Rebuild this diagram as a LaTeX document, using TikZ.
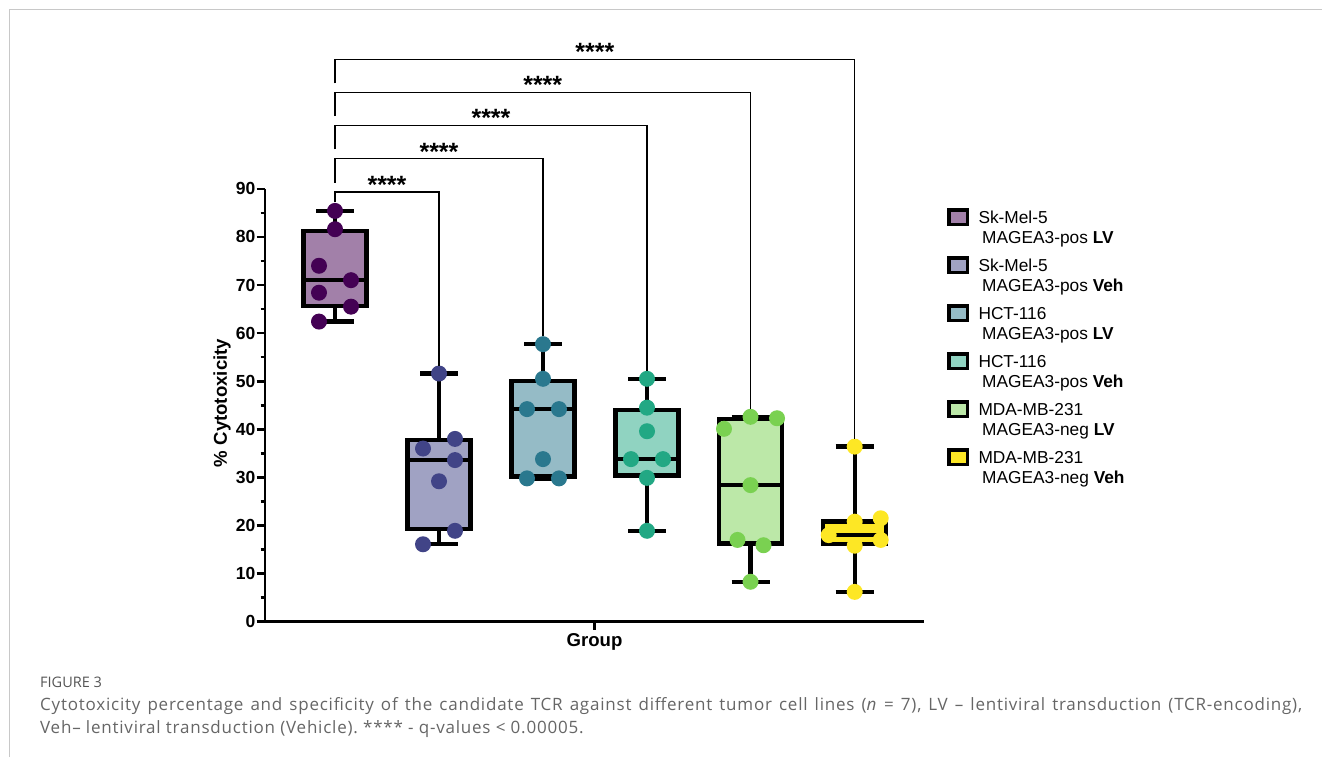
\documentclass[tikz,border=0pt]{standalone}
\usepackage{fontspec}
\setmainfont{Liberation Sans}
\newfontfamily\capfont[LetterSpace=4.6]{Open Sans}
\newfontfamily\figfont{Open Sans}
\usetikzlibrary{calc}
\frenchspacing
\definecolor{cA}{HTML}{440154}
\definecolor{cB}{HTML}{414487}
\definecolor{cC}{HTML}{2A788E}
\definecolor{cD}{HTML}{22A884}
\definecolor{cE}{HTML}{7AD151}
\definecolor{cF}{HTML}{FDE725}
\colorlet{fA}{cA!50!white}
\colorlet{fB}{cB!50!white}
\colorlet{fC}{cC!50!white}
\colorlet{fD}{cD!50!white}
\colorlet{fE}{cE!50!white}
\colorlet{fF}{cF}
\definecolor{framegray}{HTML}{C8C8C8}
\definecolor{capgray}{HTML}{666666}
\definecolor{figgray}{HTML}{555555}
\tikzset{
  axisline/.style={line width=2.6pt},
  boxline/.style={line width=4.4pt},
  whisk/.style={line width=4.4pt},
  brk/.style={line width=1.4pt},
  ticklab/.style={font=\bfseries\fontsize{17.5}{17.5}\selectfont, anchor=east, inner sep=0pt},
  stars/.style={font=\bfseries\fontsize{25}{25}\selectfont, anchor=base, inner sep=0pt},
  axlab/.style={font=\bfseries\fontsize{18.6}{18.6}\selectfont, inner sep=0pt},
  legtxt/.style={font=\fontsize{17.3}{17.3}\selectfont, anchor=base west, inner sep=0pt},
  legsq/.style={line width=3.5pt, draw=black},
  captxt/.style={font=\capfont\fontsize{17}{17}\selectfont\frenchspacing, text=capgray, anchor=base west, inner sep=0pt},
}
\newcommand\drawgroup[8]{%
  \draw[whisk] (#1,#5) -- (#1,#6);
  \draw[whisk] (#1-19,#5) -- (#1+19,#5);
  \draw[whisk] (#1-19,#6) -- (#1+19,#6);
  \draw[boxline, fill=f#2] (#1-31.5,#3) rectangle (#1+31.5,#4);
  \draw[boxline] (#1-31.5,#7) -- (#1+31.5,#7);
  \foreach \dx/\v in {#8} {\fill[c#2] (#1+\dx,\v) circle (8pt);}
}
\begin{document}
\begin{tikzpicture}[x=1pt,y=-1pt]
\useasboundingbox (0,0) rectangle (1322,761);
\fill[white] (0,0) rectangle (1322,761);
% frame
\draw[framegray, line width=1pt] (9.3,757) -- (9.3,9.3) -- (1322,9.3);

% plot in data coordinates
\begin{scope}[shift={(0pt,-621.7pt)}, y=4.81pt]
  % axes
  \draw[axisline] (265,90) -- (265,0) -- (924,0);
  \foreach \v in {0,10,...,90} {
    \draw[axisline] (256.5,\v) -- (265,\v);
    \node[ticklab] (t\v) at (255.5,\v) {\v};
  }
  \foreach \v in {5,15,...,85} {\draw[axisline] (260.5,\v) -- (265,\v);}
  \draw[axisline] (594.5,0) -- (594.5,-1.8);
  % groups
  \drawgroup{335}{A}{65.6}{81.2}{62.4}{85.4}{71.0}{0/85.4,0/81.6,-16/74.0,-16/68.4,16/71.0,16/65.5,-16/62.4}
  \drawgroup{439}{B}{19.3}{37.8}{16.1}{51.6}{33.6}{0/51.6,-16/36.0,16/38.0,16/33.6,0/29.2,16/18.9,-16/16.1}
  \drawgroup{543}{C}{30.2}{50.1}{29.8}{57.7}{44.2}{0/57.7,0/50.5,-16/44.2,16/44.2,0/33.8,-16/29.8,16/29.8}
  \drawgroup{647}{D}{30.4}{44.0}{18.9}{50.5}{33.8}{0/50.5,0/44.5,0/39.6,-16/33.8,16/33.8,0/29.9,0/18.9}
  \drawgroup{750.5}{E}{16.3}{42.1}{8.3}{42.6}{28.4}{0/42.6,26.5/42.3,-26.5/40.1,0/28.4,-13/17.0,13/15.9,0/8.3}
  \drawgroup{854.7}{F}{16.1}{20.8}{6.2}{36.4}{18.0}{0/36.4,0/20.8,26/21.5,-26/18.0,26/17.0,0/15.8,0/6.2}
\end{scope}

% axis titles
\node[axlab] (xlab) at (594.5,642) {Group};
\node[axlab, rotate=90] (ylab) at (222,403) {\% Cytotoxicity};

% significance brackets
\coordinate (R2) at (439,365.5);
\coordinate (R3) at (543,336);
\coordinate (R4) at (647,371);
\coordinate (R5) at (750.5,409);
\coordinate (R6) at (854.7,438.6);
\foreach \r/\yy/\len/\mx in {2/191.8/10.6/387, 3/158.6/24/439, 4/125.4/24/491, 5/92.2/24/542.75, 6/59.3/24/594.85} {
  \draw[brk] (335,\yy+\len) -- (335,\yy) -| (R\r);
  \node[stars] (s\r) at (\mx,\yy+1.5) {****};
}

% legend
\foreach \k/\c/\la/\lb/\lc in {0/A/Sk-Mel-5/MAGEA3-pos/LV, 1/B/Sk-Mel-5/MAGEA3-pos/Veh, 2/C/HCT-116/MAGEA3-pos/LV, 3/D/HCT-116/MAGEA3-pos/Veh, 4/E/MDA-MB-231/MAGEA3-neg/LV, 5/F/MDA-MB-231/MAGEA3-neg/Veh} {
  \draw[legsq, fill=f\c] (949,210+48*\k) rectangle (967.6,224.3+48*\k);
  \node[legtxt] (la\k) at (978.3,223.2+48*\k) {\la};
  \node[legtxt] (lb\k) at (982,243.6+48*\k) {\lb\ \textbf{\lc}};
}

% caption
\node[captxt, text=figgray, font=\figfont\fontsize{14.5}{14.5}\selectfont] (fig) at (40,687) {FIGURE 3};
\node[captxt] (cap1) at (40,710) {\makebox[1262pt][s]{Cytotoxicity percentage and specificity of the candidate TCR against different tumor cell lines (\textit{n} = 7), LV – lentiviral transduction (TCR-encoding),}};
\node[captxt] (cap2) at (40,733) {Veh– lentiviral transduction (Vehicle). **** - q-values < 0.00005.};
\end{tikzpicture}
\end{document}
